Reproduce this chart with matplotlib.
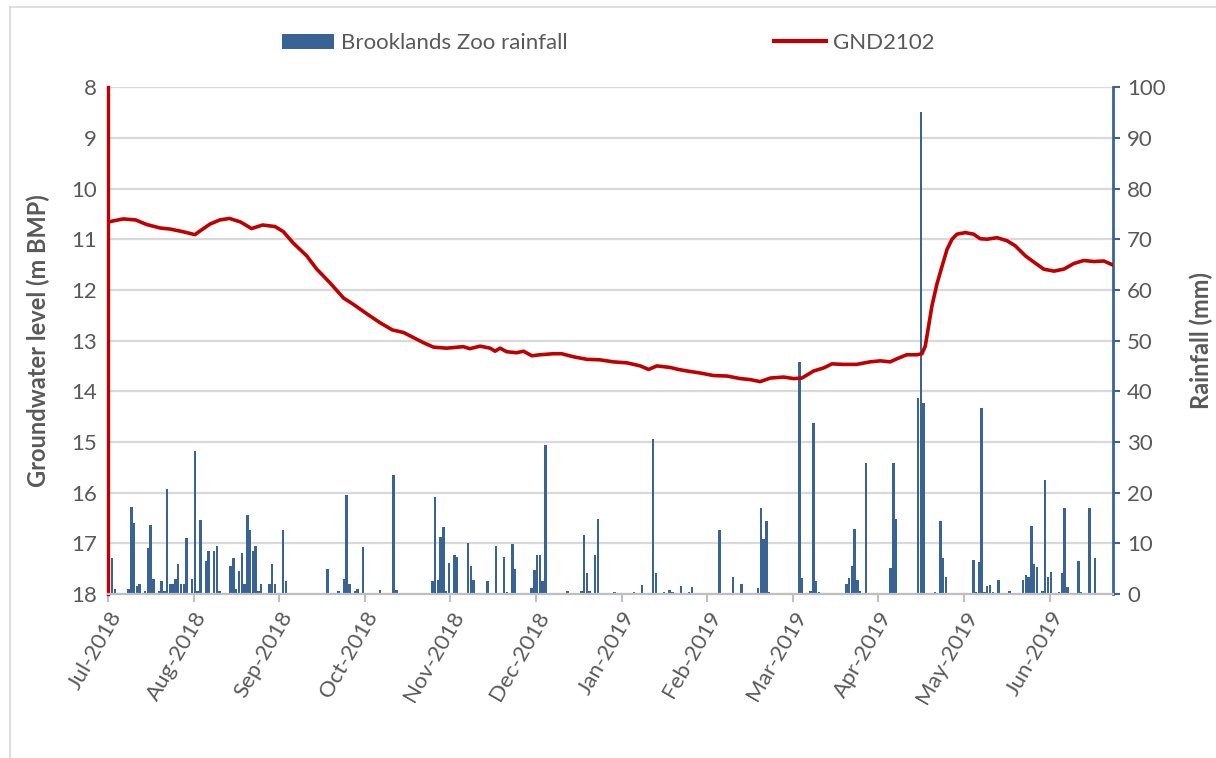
#!/usr/bin/env python3

import numpy as np
import matplotlib
matplotlib.use("Agg")
import matplotlib.pyplot as plt
from matplotlib.patches import Patch
from matplotlib.lines import Line2D

plt.rcParams['font.family'] = ['Lato', 'DejaVu Sans']

# days since 01-Jul-2018 (Excel date axis, major unit 31 days)
tick_days = [0, 31, 62, 93, 124, 155, 186, 217, 248, 279, 310, 341]
tick_labels = ["Jul-2018", "Aug-2018", "Sep-2018", "Oct-2018", "Nov-2018",
               "Dec-2018", "Jan-2019", "Feb-2019", "Mar-2019", "Apr-2019",
               "May-2019", "Jun-2019"]

# Brooklands Zoo daily rainfall (mm)
rain_day = [0, 1, 2, 7, 8, 9, 10, 11, 13, 14, 15, 16, 18, 19, 20, 21, 22, 23,
            24, 25, 26, 27, 28, 30, 31, 32, 33, 35, 36, 38, 39, 40, 44, 45, 46,
            47, 48, 49, 50, 51, 52, 53, 54, 55, 58, 59, 60, 63, 64, 79, 82, 83,
            85, 86, 87, 89, 90, 92, 98, 103, 104, 117, 118, 119, 120, 121, 122,
            123, 125, 126, 130, 131, 132, 137, 140, 143, 144, 146, 147, 153,
            154, 155, 156, 157, 158, 166, 171, 172, 173, 174, 176, 177, 183,
            190, 193, 194, 197, 198, 201, 203, 204, 207, 210, 211, 221, 226,
            229, 235, 236, 237, 238, 239, 250, 251, 254, 255, 256, 257, 267,
            268, 269, 270, 271, 272, 273, 274, 275, 283, 284, 285, 286, 293,
            294, 295, 299, 301, 302, 303, 313, 314, 315, 316, 317, 318, 319,
            320, 321, 322, 326, 331, 332, 333, 334, 335, 336, 338, 339, 340,
            341, 342, 344, 345, 346, 347, 351, 352, 355, 357, 359]
rain_mm = [23.2, 7.0, 1.0, 1.0, 17.1, 14.1, 1.5, 2.0, 0.5, 9.0, 13.6, 3.0, 0.5,
           2.5, 0.5, 20.7, 2.0, 2.0, 3.0, 6.0, 2.0, 2.0, 11.0, 3.0, 28.2, 0.5,
           14.6, 6.5, 8.5, 8.5, 9.5, 0.5, 5.5, 7.0, 1.0, 4.5, 8.0, 2.0, 15.6,
           12.6, 8.5, 9.5, 0.5, 2.0, 2.0, 6.0, 2.0, 12.6, 2.5, 5.0, 0.2, 0.5,
           3.0, 19.5, 2.0, 0.5, 1.0, 9.3, 0.7, 23.4, 0.7, 2.6, 19.1, 2.8, 11.2,
           13.3, 0.5, 6.1, 7.6, 7.2, 10.0, 5.6, 2.8, 2.6, 9.5, 7.2, 0.3, 9.9,
           5.0, 1.2, 4.8, 7.6, 7.6, 2.5, 29.4, 0.6, 0.5, 11.7, 4.2, 0.6, 7.6,
           14.8, 0.4, 0.4, 1.7, 0.2, 30.6, 4.2, 0.4, 0.8, 0.4, 1.5, 0.4, 1.3,
           12.6, 3.4, 1.9, 1.2, 16.9, 10.8, 14.3, 0.4, 45.8, 3.2, 0.6, 33.7,
           2.5, 0.3, 2.0, 3.2, 5.6, 12.8, 2.8, 0.6, 0.2, 25.8, 0.2, 5.2, 25.8,
           14.7, 0.2, 38.7, 95.1, 37.7, 0.4, 14.3, 7.0, 3.4, 6.8, 0.4, 6.4,
           36.7, 0.4, 1.5, 1.7, 0.4, 0.2, 2.8, 0.6, 2.8, 3.8, 3.4, 13.5, 6.0,
           5.4, 0.6, 22.5, 3.4, 4.4, 0.2, 0.4, 4.2, 16.9, 1.4, 6.6, 0.4, 16.9,
           7.0, 0.2]

# GND2102 groundwater level (m below measuring point)
gw_day = [0, 5.5, 10, 14, 19, 22.5, 27, 31.5, 33, 37, 40.5, 44, 48, 52, 56,
          60.5, 63.5, 67, 72, 75.6, 80.4, 85.3, 89, 93.7, 98.6, 103, 107,
          110.6, 114.2, 117.9, 122.7, 128.7, 131, 134.8, 138.4, 140.2, 142,
          144.4, 148, 150.5, 153.5, 156.5, 161.3, 164.3, 168.6, 173.4, 178.2,
          183, 188, 192.8, 195.8, 198.8, 203.6, 206.6, 209.7, 214.5, 219.3,
          224.2, 229, 232.6, 236.2, 239.9, 244.7, 248.3, 251.3, 255.6, 259.2,
          262.2, 266.4, 271.2, 276, 279.7, 283.3, 285.7, 289.3, 293, 294.8,
          296, 297.2, 298.4, 300.2, 302.1, 303.9, 305.7, 307.5, 310.5, 313.5,
          315.9, 318.4, 322, 325.6, 328.6, 332.3, 335.3, 338.9, 342.6, 346.2,
          349.8, 353.4, 357, 360.7, 364]
gw_level = [10.66, 10.60, 10.62, 10.71, 10.78, 10.80, 10.85, 10.91, 10.85,
            10.70, 10.62, 10.59, 10.66, 10.79, 10.72, 10.75, 10.85, 11.07,
            11.33, 11.59, 11.86, 12.16, 12.29, 12.47, 12.65, 12.79, 12.84,
            12.94, 13.04, 13.13, 13.15, 13.12, 13.16, 13.11, 13.15, 13.21,
            13.15, 13.22, 13.24, 13.21, 13.30, 13.28, 13.26, 13.26, 13.32,
            13.37, 13.38, 13.42, 13.44, 13.50, 13.57, 13.50, 13.53, 13.57,
            13.60, 13.64, 13.69, 13.70, 13.75, 13.77, 13.81, 13.74, 13.72,
            13.75, 13.74, 13.60, 13.54, 13.46, 13.47, 13.47, 13.42, 13.40,
            13.42, 13.36, 13.28, 13.28, 13.26, 13.11, 12.72, 12.32, 11.89,
            11.53, 11.20, 11.00, 10.90, 10.87, 10.90, 10.99, 11.00, 10.97,
            11.03, 11.13, 11.33, 11.45, 11.59, 11.63, 11.59, 11.48, 11.42,
            11.44, 11.43, 11.51]

grey = '#595959'
bar_col = '#3A6395'
line_col = '#C00000'

fig = plt.figure(figsize=(12.16, 7.58), dpi=100)
fig.subplots_adjust(left=0.0888, right=0.9153, top=0.885, bottom=0.2164)
ax = fig.add_subplot()
ax2 = ax.twinx()

# rainfall on the back axis, with the grid
ax2.bar(rain_day, rain_mm, width=0.9, align='edge', color=bar_col,
        linewidth=0, zorder=2)
ax2.set_ylim(0, 100)
ax2.set_yticks(np.arange(0, 101, 10))
ax2.grid(axis='y', color='#D9D9D9', linewidth=1.6, zorder=0)
ax2.set_axisbelow(True)
ax2.tick_params(axis='y', colors=bar_col, labelcolor=grey, labelsize=16,
                length=5, width=1.5, direction='out', pad=5)
ax2.set_ylabel("Rainfall (mm)", color=grey, fontsize=17, fontweight='bold')
ax2.yaxis.set_label_coords(1.076, 0.5)
for s in ['top', 'left', 'bottom']:
    ax2.spines[s].set_visible(False)
ax2.spines['right'].set_color(bar_col)
ax2.spines['right'].set_linewidth(2)

# groundwater line on top
ax.set_zorder(ax2.get_zorder() + 1)
ax.patch.set_visible(False)
ax.plot(gw_day, gw_level, color=line_col, linewidth=2.6, zorder=3)
ax.set_ylim(18, 8)
ax.set_yticks(np.arange(8, 19, 1))
ax.tick_params(axis='y', length=0, labelcolor=grey, labelsize=16, pad=8)
ax.set_ylabel("Groundwater level (m BMP)", color=grey, fontsize=17,
              fontweight='bold')
ax.yaxis.set_label_coords(-0.058, 0.5)

ax.set_xlim(0, 364)
ax.set_xticks(tick_days)
ax.set_xticklabels(tick_labels, rotation=60, ha='right', va='top',
                   rotation_mode='anchor')
ax.tick_params(axis='x', colors='#BFBFBF', labelcolor=grey, labelsize=16,
               length=6, width=1.5, direction='out', pad=4)
for s in ['top', 'right']:
    ax.spines[s].set_visible(False)
ax.spines['bottom'].set_color('#BFBFBF')
ax.spines['bottom'].set_linewidth(1.6)
ax.spines['left'].set_color(line_col)
ax.spines['left'].set_linewidth(2.4)

handles = [Patch(facecolor=bar_col, edgecolor='none'),
           Line2D([0], [0], color=line_col, linewidth=3)]
fig.legend(handles, ["Brooklands Zoo rainfall", "GND2102"], loc='center',
           bbox_to_anchor=(0.5, 0.943), ncol=2, frameon=False, fontsize=16,
           handlelength=2.35, handleheight=0.7, handletextpad=0.3,
           columnspacing=9.3, labelcolor=grey)

# chart area border
fig.add_artist(Line2D([0.0085, 0.0085], [0, 0.991], color='#D9D9D9',
                      linewidth=1.2, transform=fig.transFigure))
fig.add_artist(Line2D([0.0085, 1], [0.991, 0.991], color='#D9D9D9',
                      linewidth=1.2, transform=fig.transFigure))

plt.savefig("out.png", dpi=100)
